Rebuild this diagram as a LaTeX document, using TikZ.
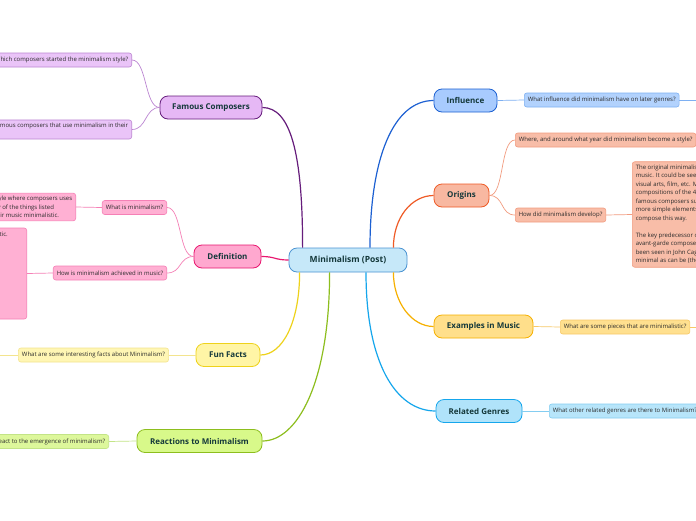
\documentclass[tikz,border=0pt]{standalone}
\usepackage{fontspec}
\setmainfont{Open Sans}

\definecolor{roottext}{HTML}{14383A}
\definecolor{questext}{HTML}{2B2B2B}
\definecolor{rootline}{HTML}{4A93D2}
\definecolor{rootfill}{HTML}{C6E8F9}
% branch colours: line, fill, question fill, question line
\definecolor{composline}{HTML}{661D7C}
\definecolor{composfill}{HTML}{E6B8F5}
\definecolor{composqfill}{HTML}{EAC4F8}
\definecolor{composqline}{HTML}{BC86D2}
\definecolor{definline}{HTML}{E8176F}
\definecolor{definfill}{HTML}{FFA8CF}
\definecolor{definqfill}{HTML}{FFB0D3}
\definecolor{definqline}{HTML}{F580B6}
\definecolor{funline}{HTML}{EED21B}
\definecolor{funfill}{HTML}{FFF5A6}
\definecolor{funqfill}{HTML}{FFF6B4}
\definecolor{funqline}{HTML}{F3E48E}
\definecolor{reactline}{HTML}{8DBE1E}
\definecolor{reactfill}{HTML}{D8F98A}
\definecolor{reactqfill}{HTML}{DDF79B}
\definecolor{reactqline}{HTML}{C3E487}
\definecolor{influline}{HTML}{1C60D2}
\definecolor{influfill}{HTML}{A8CBFE}
\definecolor{influqfill}{HTML}{B2D2FD}
\definecolor{influqline}{HTML}{7EB0F2}
\definecolor{origline}{HTML}{EF5A25}
\definecolor{origfill}{HTML}{F8B8A1}
\definecolor{origqfill}{HTML}{F8BDA8}
\definecolor{origqline}{HTML}{F29C80}
\definecolor{exampline}{HTML}{F6B000}
\definecolor{exampfill}{HTML}{FFDF8B}
\definecolor{exampqfill}{HTML}{FFE08F}
\definecolor{exampqline}{HTML}{F7C968}
\definecolor{relatline}{HTML}{15A6EC}
\definecolor{relatfill}{HTML}{B0E3FA}
\definecolor{relatqfill}{HTML}{B7E5FA}
\definecolor{relatqline}{HTML}{84CDF1}

\begin{document}
\begin{tikzpicture}[x=1pt,y=-1pt,
  topic/.style 2 args={draw=#1,fill=#2,line width=0.8pt,rounded corners=8pt,
    minimum height=23pt,inner sep=0pt,text=roottext,
    font=\fontsize{8}{10}\selectfont\bfseries},
  ques/.style 2 args={draw=#1,fill=#2,line width=0.6pt,rounded corners=2.5pt,
    minimum height=14pt,inner xsep=3.5pt,inner ysep=3pt,text=questext,
    align=left,font=\fontsize{6}{8.5}\selectfont},
  branch/.style={line width=1.2pt,#1},
  twig/.style={line width=0.7pt,#1}]

  % Canvas
  \useasboundingbox (0,0) rectangle (696,520);
  \fill[white] (0,0) rectangle (696,520);

  % Centre
  \node[topic={rootline}{rootfill},minimum width=118pt,minimum height=24pt,
    font=\fontsize{8.5}{10}\selectfont\bfseries] (root) at (348,260) {Minimalism (Post)};

  % Topics
  \node[topic={composline}{composfill},minimum width=102pt] (composers) at (211,107.5) {Famous Composers};
  \node[topic={definline}{definfill},minimum width=67pt] (definition) at (227.5,256.5) {Definition};
  \node[topic={funline}{funfill},minimum width=64pt] (funfacts) at (228,355) {Fun Facts};
  \node[topic={reactline}{reactfill},minimum width=125pt] (reactions) at (199.5,441) {Reactions to Minimalism};
  \node[topic={influline}{influfill},minimum width=63pt] (influence) at (465.5,100.5) {Influence};
  \node[topic={origline}{origfill},minimum width=55pt] (origins) at (461.5,195.5) {Origins};
  \node[topic={exampline}{exampfill},minimum width=99pt] (examples) at (483.5,326.5) {Examples in Music};
  \node[topic={relatline}{relatfill},minimum width=86pt] (genres) at (479,411) {Related Genres};

  % Branches
  \draw[branch=composline] (composers.east) .. controls +(28,0) and +(0,-95) .. ([xshift=14pt]root.north west);
  \draw[branch=definline] (definition.east) .. controls +(14,0) and +(-14,0) .. (root.west);
  \draw[branch=funline] (funfacts.east) .. controls +(22,0) and +(0,50) .. ([xshift=11pt]root.south west);
  \draw[branch=reactline] (reactions.east) .. controls +(35,0) and +(0,110) .. ([xshift=41pt]root.south west);
  \draw[branch=influline] (influence.west) .. controls +(-40,0) and +(0,-90) .. ([xshift=22pt]root.north);
  \draw[branch=origline] (origins.west) .. controls +(-22,0) and +(0,-30) .. ([xshift=-14pt]root.north east);
  \draw[branch=exampline] (examples.west) .. controls +(-22,0) and +(0,30) .. ([xshift=-14pt]root.south east);
  \draw[branch=relatline] (genres.west) .. controls +(-40,0) and +(0,90) .. ([xshift=18pt]root.south);

  % Questions, left
  \node[ques={composqline}{composqfill},anchor=east] (started) at (132,60) {Which composers started the minimalism style?};
  \node[ques={composqline}{composqfill},anchor=east] (famous) at (132,129.5) {Famous composers that use minimalism in their\\\mbox{}};
  \node[ques={definqline}{definqfill}] (whatis) at (134.5,207.5) {What is minimalism?};
  \node[ques={definqline}{definqfill},anchor=east] (whatans) at (76,207) {Minimalism is a style where composers uses\\using one or many of the things listed\\below to make their music minimalistic.};
  \node[ques={definqline}{definqfill}] (howachieved) at (110,273) {How is minimalism achieved in music?};
  \node[ques={definqline}{definqfill},anchor=east,text width=120pt,text height=5pt,text depth=80pt] (howans) at (27,273.5) {Ways that music can be minimalistic.};
  \node[ques={funqline}{funqfill}] (facts) at (93.5,355) {What are some interesting facts about Minimalism?};
  \node[ques={reactqline}{reactqfill},anchor=east] (react) at (109,441.5) {How did people react to the emergence of minimalism?};
  \coordinate (factsend) at (-10,355);

  % Questions, right
  \node[ques={influqline}{influqfill},anchor=west] (later) at (524,100) {What influence did minimalism have on later genres?};
  \node[ques={origqline}{origqfill},anchor=west] (where) at (515,140) {Where, and around what year did minimalism become a style?};
  \node[ques={origqline}{origqfill},anchor=west] (develop) at (515,215) {How did minimalism develop?};
  \node[ques={origqline}{origqfill},anchor=west] (developans) at (632,214.5) {The original minimalism came from outside of\\music. It could be seen in painting, sculpture,\\visual arts, film, etc. Minimalism in music were\\compositions of the 4 most important and\\famous composers such as Reich, who used\\more simple elements and began to\\compose this way.\\[8.5pt]The key predecessor of minimalism is the\\avant-garde composer John Cage. It has\\been seen in John Cage's 4'33'', which is as\\minimal as can be (the performer does nothing).};
  \node[ques={exampqline}{exampqfill},anchor=west] (pieces) at (560,327) {What are some pieces that are minimalistic?};
  \node[ques={relatqline}{relatqfill},anchor=west] (related) at (549,411) {What other related genres are there to Minimalism?};
  \coordinate (laterend) at (710,100);
  \coordinate (piecesend) at (710,327);

  % Twigs
  \draw[twig=composqline] (composers.west) .. controls +(-15,0) and +(15,0) .. (started.east);
  \draw[twig=composqline] (composers.west) .. controls +(-15,0) and +(15,0) .. (famous.east);
  \draw[twig=definqline] (definition.west) .. controls +(-15,0) and +(15,0) .. (whatis.east);
  \draw[twig=definqline] (definition.west) .. controls +(-15,0) and +(15,0) .. (howachieved.east);
  \draw[twig=definqline] (whatis.west) -- (whatans.east);
  \draw[twig=definqline] (howachieved.west) -- (howans.east);
  \draw[twig=funqline] (funfacts.west) -- (facts.east);
  \draw[twig=funqline] (facts.west) -- (factsend);
  \draw[twig=reactqline] (reactions.west) -- (react.east);
  \draw[twig=influqline] (influence.east) -- (later.west);
  \draw[twig=influqline] (later.east) -- (laterend);
  \draw[twig=origqline] (origins.east) .. controls +(15,0) and +(-15,0) .. (where.west);
  \draw[twig=origqline] (origins.east) .. controls +(15,0) and +(-15,0) .. (develop.west);
  \draw[twig=origqline] (develop.east) -- (developans.west);
  \draw[twig=exampqline] (examples.east) -- (pieces.west);
  \draw[twig=exampqline] (pieces.east) -- (piecesend);
  \draw[twig=relatqline] (genres.east) -- (related.west);
\end{tikzpicture}
\end{document}
